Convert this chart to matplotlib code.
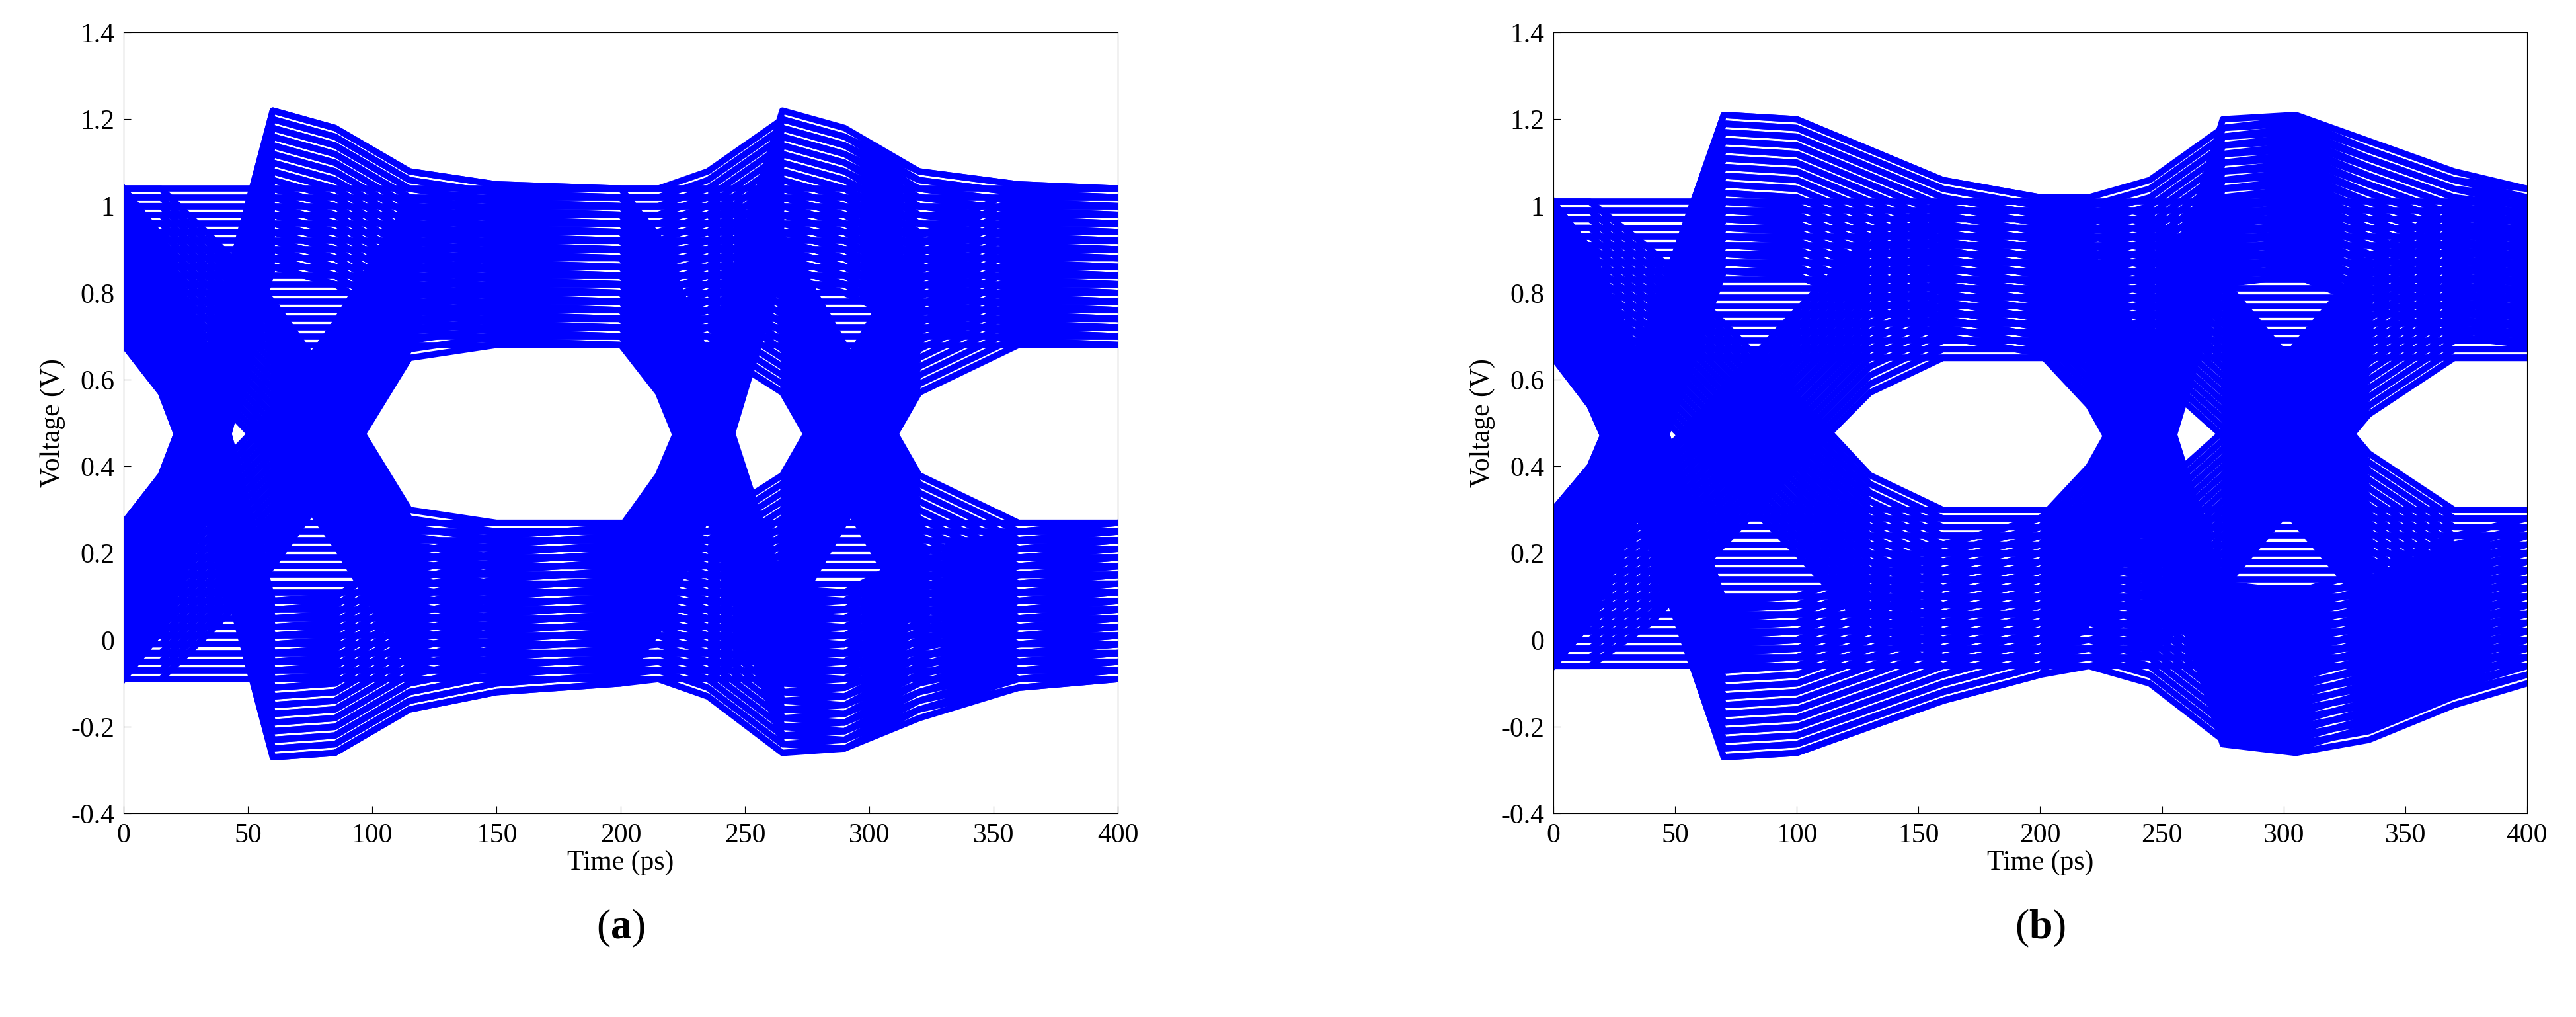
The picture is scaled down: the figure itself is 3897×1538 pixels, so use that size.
import matplotlib
matplotlib.use("Agg")
import matplotlib.pyplot as plt
import numpy as np

plt.rcParams["font.family"] = ["Liberation Serif", "DejaVu Serif"]
plt.rcParams["mathtext.fontset"] = "custom"
plt.rcParams["mathtext.bf"] = "Liberation Serif:bold"

# key time points (ps) where trace voltages (band centres) were read
time_a = [0, 15, 35, 60, 85, 115, 150, 200, 215, 235, 265, 290, 320, 360, 400]
traces_a = [
    [0.09, 0.09, 0.09, 0.09, 0.09, 0.09, 0.09, 0.09, 0.09, 0.09, 0.09, 0.09, 0.09, 0.09, 0.09],
    [0.86, 0.86, 0.86, 0.86, 0.86, 0.86, 0.86, 0.86, 0.86, 0.86, 0.86, 0.86, 0.86, 0.86, 0.86],
    [0.09, 0.2, 0.5, 1.04, 1.0, 0.9, 0.87, 0.86, 0.75, 0.47, -0.06, -0.07, 0.0, 0.07, 0.09],
    [0.86, 0.75, 0.45, -0.09, -0.08, 0.02, 0.06, 0.08, 0.2, 0.47, 1.04, 1.0, 0.9, 0.87, 0.86],
    [0.09, 0.2, 0.5, 1.04, 1.0, 0.9, 0.87, 0.86, 0.86, 0.9, 1.02, 0.98, 0.9, 0.87, 0.86],
    [0.86, 0.75, 0.45, -0.09, -0.08, 0.02, 0.06, 0.08, 0.09, 0.05, -0.08, -0.07, 0.02, 0.07, 0.09],
    [0.86, 0.86, 0.75, 0.6, 0.4, 0.12, 0.09, 0.09, 0.09, 0.09, 0.2, 0.45, 0.75, 0.86, 0.86],
    [0.09, 0.09, 0.2, 0.35, 0.55, 0.83, 0.86, 0.86, 0.86, 0.86, 0.75, 0.5, 0.2, 0.09, 0.09],
]

time_b = [0, 15, 40, 70, 100, 130, 160, 200, 220, 245, 275, 305, 335, 370, 400]
traces_b = [
    [0.12, 0.12, 0.12, 0.12, 0.12, 0.12, 0.12, 0.12, 0.12, 0.12, 0.12, 0.12, 0.12, 0.12, 0.12],
    [0.83, 0.83, 0.83, 0.83, 0.83, 0.83, 0.83, 0.83, 0.83, 0.83, 0.83, 0.83, 0.83, 0.83, 0.83],
    [0.12, 0.22, 0.55, 1.03, 1.02, 0.95, 0.88, 0.84, 0.72, 0.47, -0.06, -0.08, -0.05, 0.03, 0.08],
    [0.83, 0.72, 0.4, -0.09, -0.08, -0.02, 0.04, 0.1, 0.22, 0.47, 1.02, 1.03, 0.97, 0.9, 0.86],
    [0.12, 0.22, 0.55, 1.03, 1.02, 0.95, 0.88, 0.84, 0.84, 0.88, 1.0, 1.02, 0.95, 0.88, 0.86],
    [0.83, 0.72, 0.4, -0.09, -0.08, -0.02, 0.04, 0.1, 0.12, 0.08, -0.05, -0.07, -0.02, 0.06, 0.1],
    [0.83, 0.83, 0.72, 0.55, 0.38, 0.2, 0.12, 0.12, 0.12, 0.15, 0.3, 0.5, 0.7, 0.83, 0.83],
    [0.12, 0.12, 0.22, 0.4, 0.58, 0.75, 0.83, 0.83, 0.83, 0.8, 0.65, 0.45, 0.25, 0.12, 0.12],
]

# spread of noisy copies around each band centre (V)
spread = [-0.18, -0.16, -0.14, -0.12, -0.1, -0.08, -0.06, -0.04, -0.02, 0.0,
          0.02, 0.04, 0.06, 0.08, 0.1, 0.12, 0.14, 0.16, 0.18]

fig = plt.figure(figsize=(38.97, 15.38), dpi=100)
ax_a = fig.add_axes([0.048, 0.200, 0.386, 0.768])
ax_b = fig.add_axes([0.603, 0.200, 0.378, 0.768])

for ax, t, traces, lab in [(ax_a, time_a, traces_a, "a"), (ax_b, time_b, traces_b, "b")]:
    for tr in traces:
        for s in spread:
            ax.plot(t, np.array(tr) + s, color="#0000ff", lw=7, solid_joinstyle="round")
    ax.set_xlim(0, 400)
    ax.set_ylim(-0.4, 1.4)
    ax.set_xticks(range(0, 401, 50))
    ax.set_yticks(np.round(np.arange(-0.4, 1.41, 0.2), 1))
    ax.set_yticklabels(["-0.4", "-0.2", "0", "0.2", "0.4", "0.6", "0.8", "1", "1.2", "1.4"])
    ax.tick_params(labelsize=30, direction="in", length=8, pad=10)
    ax.set_xlabel("Time (ps)", fontsize=30, labelpad=2)
    ax.set_ylabel("Voltage (V)", fontsize=30, labelpad=6)
    x0, x1 = ax.get_position().x0, ax.get_position().x1
    fig.text((x0 + x1) / 2, 0.087, r"($\mathbf{" + lab + r"}$)", fontsize=46,
             ha="center", va="center")

fig.savefig("out.png", dpi=100)
